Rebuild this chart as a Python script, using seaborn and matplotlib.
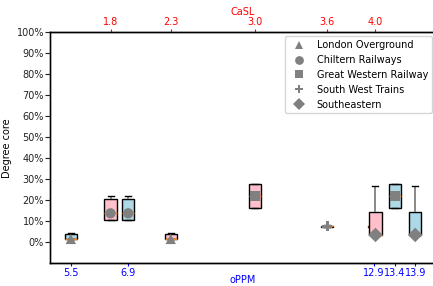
import numpy as np
import pandas as pd
import matplotlib
matplotlib.use("Agg")
import matplotlib.pyplot as plt
import seaborn as sns
from matplotlib.ticker import PercentFormatter

operators = ["London Overground", "Chiltern Railways", "Great Western Railway",
             "South West Trains", "Southeastern"]
oppm = [5.5, 6.9, 13.4, 12.9, 13.9]
casl = [2.3, 1.8, 3.0, 3.6, 4.0]
markers_list = ["^", "o", "s", "P", "D"]

# degree-core samples per operator (fractions)
lo_vals = [0.016, 0.016, 0.016, 0.038, 0.044]
ch_vals = [0.108, 0.108, 0.138, 0.206, 0.220]
gw_vals = [0.165, 0.165, 0.220, 0.276, 0.280]
sw_vals = [0.071, 0.072, 0.076, 0.080, 0.081]
se_vals = [0.035, 0.035, 0.035, 0.146, 0.270]
samples = [lo_vals, ch_vals, gw_vals, sw_vals, se_vals]

oppm_ticks = [5.5, 6.9, 12.9, 13.4, 13.9]
casl_ticks = [1.8, 2.3, 3.0, 3.6, 4.0]

rows = []
for op, xo, xc, vals in zip(operators, oppm, casl, samples):
    for v in vals:
        rows.append({"operator": op, "oPPM": xo, "CaSL": xc, "value": v})
df = pd.DataFrame(rows)
med = df.groupby("operator", sort=False).agg(
    oPPM=("oPPM", "first"), CaSL=("CaSL", "first"), median=("value", "median")
).reset_index()
marker_map = dict(zip(operators, markers_list))

plt.rcParams["font.family"] = ["DejaVu Sans"]
plt.rcParams["font.size"] = 7

fig = plt.figure(figsize=(4.33, 2.86), dpi=100)
ax = fig.add_axes([50.3 / 433, 22.7 / 286, 385.4 / 433, 231 / 286])

box_kw = dict(y="value", native_scale=True, saturation=1, linewidth=1,
              linecolor="black", showfliers=False,
              whiskerprops=dict(color="gray", linewidth=1.3),
              medianprops=dict(color="#ff7f0e", linewidth=1))

sns.boxplot(data=df, x="oPPM", width=0.6, color="lightblue", ax=ax, **box_kw)
sns.scatterplot(data=med, x="oPPM", y="median", style="operator",
                markers=marker_map, style_order=operators, color="gray",
                s=55, linewidth=0, ax=ax, legend=False, zorder=5)

ax2 = ax.twiny()
sns.boxplot(data=df, x="CaSL", width=0.25, color="pink", ax=ax2, **box_kw)
sns.scatterplot(data=med, x="CaSL", y="median", style="operator",
                markers=marker_map, style_order=operators, color="gray",
                s=55, linewidth=0, ax=ax2, legend=True, zorder=5)

ax.set_xlim(5.0, 14.4)
ax2.set_xlim(1.3, 4.5)
ax.set_ylim(-0.1, 1.0)
ax.set_yticks(np.arange(0, 1.01, 0.1))
ax.yaxis.set_major_formatter(PercentFormatter(1.0, decimals=0))

ax.set_xticks(oppm_ticks)
ax.set_xticklabels([f"{t:.1f}" for t in oppm_ticks])
ax2.set_xticks(casl_ticks)
ax2.set_xticklabels([f"{t:.1f}" for t in casl_ticks])

ax.tick_params(axis="x", colors="blue", length=2, pad=1.5)
ax2.tick_params(axis="x", colors="red", length=2, pad=2)
ax.tick_params(axis="y", length=3.5, pad=1, colors="#222222")

ax.set_xlabel("oPPM", color="blue")
ax.xaxis.set_label_coords(0.5, -0.05)
ax2.set_xlabel("CaSL", color="red", labelpad=1)
ax.set_ylabel("Degree core", labelpad=3)

for a in (ax, ax2):
    for s in a.spines.values():
        s.set_linewidth(1.0)
        s.set_color("black")
ax.spines["left"].set_color("#444444")

leg = ax2.legend(loc="upper right", fontsize=7, frameon=True, title=None,
                 borderaxespad=0.4, markerscale=0.85)
for h in leg.legend_handles:
    h.set_color("gray")

fig.savefig("out.png", dpi=100)
